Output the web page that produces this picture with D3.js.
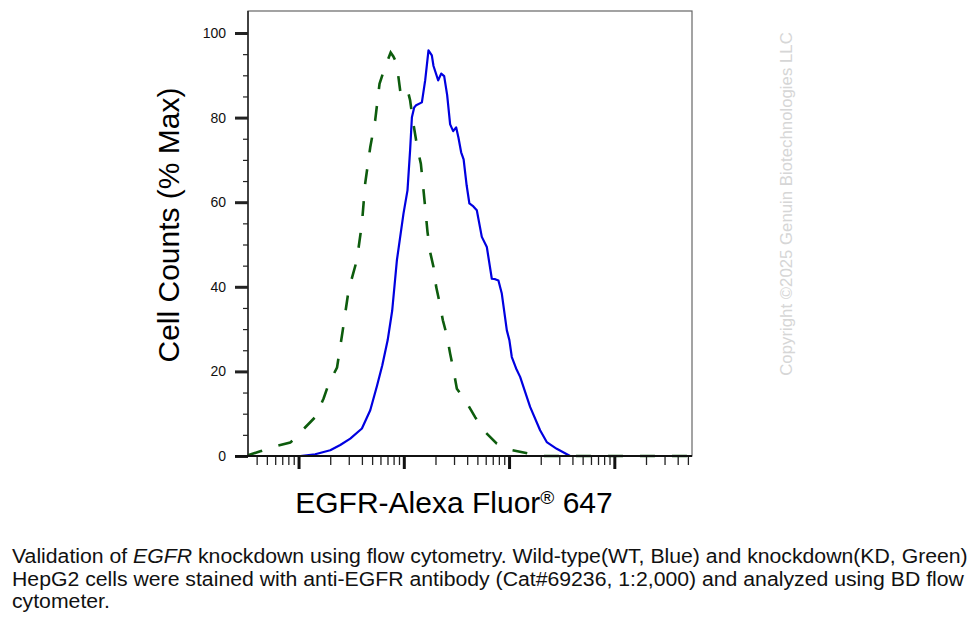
<!DOCTYPE html>
<html>
<head>
<meta charset="utf-8">
<script src="https://cdn.jsdelivr.net/npm/d3@7"></script>
<style>
  body { margin: 0; background: #fff; }
  svg { display: block; font-family: "Liberation Sans", Arial, sans-serif; }
</style>
</head>
<body>
<svg id="chart" width="980" height="625"></svg>
<script>
// WT (blue, solid) histogram: fluorescence intensity vs % of max
var wtIntensity = [33, 104, 144, 200, 249, 310, 400, 480, 555, 624, 703, 776, 860, 993, 1084, 1148, 1194, 1255, 1309, 1485,
  1596, 1716, 1846, 1915, 2122, 2266, 2418, 2582, 2756, 2944, 3141, 3303, 3506, 3701, 3953, 4198, 4581, 4938, 5510, 6148,
  6857, 7380, 7925, 8531, 9526, 10070, 10620, 11670, 12740, 15850, 19720, 22800, 28380, 38020, 547000];
var wtPercent = [0, 0, 0.4, 1.35, 2.6, 4.1, 6.5, 10.8, 16.5, 21.4, 27.4, 34.4, 46.3, 57.3, 62.8, 72.3, 80.1, 82.4, 82.9, 83.6,
  88.8, 95.9, 94.7, 92.2, 88.8, 90.4, 89.8, 85.3, 78.4, 76.8, 77.7, 75.3, 71.8, 70.1, 64.0, 59.7, 59.0, 58.1, 51.8, 49.4,
  41.9, 41.8, 41.5, 38.4, 29.7, 27.4, 23.4, 20.7, 18.7, 11.6, 6.1, 3.3, 1.7, 0, 0];

// KD (green, dashed)
var kdIntensity = [33, 43.3, 62.4, 83.4, 95, 113, 144, 173, 193, 232, 263, 299, 358, 400, 430, 480, 535, 588, 658, 750,
  793, 847, 890, 944, 1030, 1107, 1148, 1227, 1349, 1452, 1517, 1596, 1679, 1779, 1915, 2030, 2182, 2350, 2564, 2756,
  2965, 3192, 3828, 4760, 5708, 7650, 10230, 15280, 19720, 547000];
var kdPercent = [0.2, 1.1, 2.4, 3.2, 4.4, 6.5, 9.2, 13.6, 17.0, 20.9, 29.7, 39.2, 46.3, 54.9, 64.5, 73.0, 79.4, 88.0, 91.7, 95.4,
  94.5, 93.1, 89.5, 84.6, 85.5, 85.7, 84.1, 78.9, 72.7, 69.1, 64.4, 58.8, 53.0, 48.2, 44.7, 40.0, 36.4, 32.1, 28.5, 24.2,
  20.3, 15.9, 13.2, 9.2, 6.1, 2.9, 1.5, 0.6, 0, 0];

var yTicks = [0, 20, 40, 60, 80, 100];
var xDomain = [33.1, 547000];

var xLabel = "EGFR-Alexa Fluor";
var yLabel = "Cell Counts (% Max)";
var watermark = "Copyright \u00A92025 Genuin Biotechnologies LLC";

var svg = d3.select("#chart");
svg.append("rect").attr("width", 980).attr("height", 625).attr("fill", "#fff");

var plotL = 248, plotR = 692, plotT = 11, plotB = 456;

var x = d3.scaleLog().domain(xDomain).range([plotL, plotR]);
var y = d3.scaleLinear().domain([0, 100]).range([456, 33]);

// frame
svg.append("rect")
  .attr("x", plotL).attr("y", plotT)
  .attr("width", plotR - plotL).attr("height", plotB - plotT)
  .attr("fill", "none").attr("stroke", "#666").attr("stroke-width", 1.2);

var line = d3.line().x(function(d) { return x(d[0]); }).y(function(d) { return y(d[1]); });

var kd = d3.zip(kdIntensity, kdPercent);
var wt = d3.zip(wtIntensity, wtPercent);

svg.append("path")
  .attr("d", line(kd))
  .attr("fill", "none")
  .attr("stroke", "#0d5c0d")
  .attr("stroke-width", 2.6)
  .attr("stroke-dasharray", "15,17");

svg.append("path")
  .attr("d", line(wt))
  .attr("fill", "none")
  .attr("stroke", "#0000e0")
  .attr("stroke-width", 2.2)
  .attr("stroke-linejoin", "round");

// y axis ticks
var minorY = d3.range(5, 100, 5).filter(function(v) { return v % 20 !== 0; });
var yAxisMinor = d3.axisLeft(y).tickValues(minorY).tickSize(5).tickFormat("");
var yAxisMajor = d3.axisLeft(y).tickValues(yTicks).tickSize(13).tickPadding(9).tickFormat(d3.format("d"));

var gym = svg.append("g").attr("transform", "translate(" + plotL + ",0)").call(yAxisMinor);
gym.select(".domain").remove();
gym.selectAll("line").attr("stroke", "#222").attr("stroke-width", 1.2);

var gy = svg.append("g").attr("transform", "translate(" + plotL + ",0)").call(yAxisMajor);
gy.select(".domain").attr("stroke", "#222").attr("stroke-width", 1.5).attr("d", "M0," + plotT + "V" + plotB);
gy.selectAll("line").attr("stroke", "#222").attr("stroke-width", 3);
gy.selectAll("text").attr("font-size", 14).attr("fill", "#111")
  .attr("font-family", "'Liberation Sans', Arial, sans-serif");

// x axis ticks (log decades)
var allTicks = x.ticks();
var majorX = allTicks.filter(function(v) { return Math.abs(Math.log10(v) - Math.round(Math.log10(v))) < 1e-9; });
var minorX = allTicks.filter(function(v) { return majorX.indexOf(v) < 0; });

var gxm = svg.append("g").attr("transform", "translate(0," + plotB + ")")
  .call(d3.axisBottom(x).tickValues(minorX).tickSize(9).tickFormat(""));
gxm.select(".domain").remove();
gxm.selectAll("line").attr("stroke", "#222").attr("stroke-width", 1.3);

var gx = svg.append("g").attr("transform", "translate(0," + plotB + ")")
  .call(d3.axisBottom(x).tickValues(majorX).tickSize(13).tickFormat(""));
gx.select(".domain").attr("stroke", "#111").attr("stroke-width", 2).attr("d", "M235,0H" + plotR);
gx.selectAll("line").attr("stroke", "#111").attr("stroke-width", 3);

// axis titles
svg.append("text")
  .attr("transform", "translate(179,225) rotate(-90)")
  .attr("text-anchor", "middle")
  .attr("font-size", 30)
  .attr("fill", "#000")
  .text(yLabel);

var xt = svg.append("text")
  .attr("x", 454).attr("y", 513)
  .attr("text-anchor", "middle")
  .attr("font-size", 30)
  .attr("fill", "#000");
xt.append("tspan").text(xLabel);
xt.append("tspan").attr("font-size", 19).attr("dy", -9).text("\u00AE");
xt.append("tspan").attr("dy", 9).text(" 647");

// watermark
svg.append("text")
  .attr("transform", "translate(792,204) rotate(-90)")
  .attr("text-anchor", "middle")
  .attr("font-size", 16.8)
  .attr("fill", "#d6d6d6")
  .text(watermark);

// caption
var cap = svg.append("g").attr("font-size", 19.5).attr("fill", "#111");
var l1 = cap.append("text").attr("x", 0).attr("y", 563);
l1.append("tspan").text("Validation of ");
l1.append("tspan").attr("font-style", "italic").text("EGFR");
l1.append("tspan").text(" knockdown using flow cytometry. Wild-type(WT, Blue) and knockdown(KD, Green)");
cap.append("text").attr("x", 0).attr("y", 585.7)
  .text("HepG2 cells were stained with anti-EGFR antibody (Cat#69236, 1:2,000) and analyzed using BD flow");
cap.append("text").attr("x", 0).attr("y", 608.3).text("cytometer.");

var w1 = l1.node().getComputedTextLength();
var sx = 956 / w1;
cap.attr("transform", "translate(12,0) scale(" + sx + ",1)");
</script>
</body>
</html>
